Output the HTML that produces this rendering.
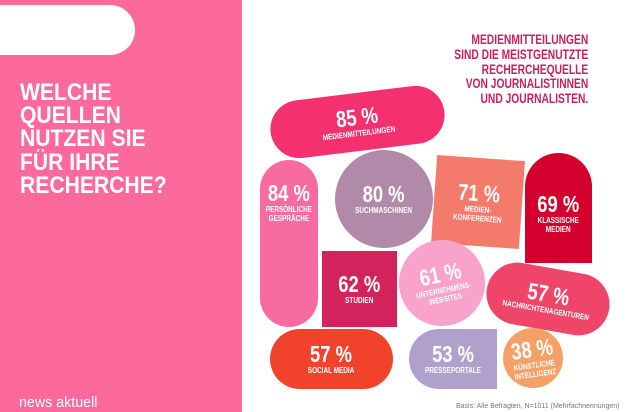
<!DOCTYPE html>
<html><head><meta charset="utf-8"><style>
body{margin:0;width:630px;height:412px;overflow:hidden;background:#fff;position:relative;font-family:"Liberation Sans",sans-serif}
#panel{position:absolute;left:0;top:0;width:242px;height:412px;background:#fc6a9b}
#pill{position:absolute;left:-30px;top:5px;width:165px;height:50px;border-radius:25px;background:#fff}
#title{position:absolute;left:20px;top:81px;color:#fff;font-weight:bold;font-size:24px;line-height:23.2px;transform:scaleX(0.88);transform-origin:left;white-space:nowrap}
#logo{position:absolute;left:19px;top:394px;color:#fff;font-size:15px;transform:scaleX(0.95);transform-origin:left}
#head{position:absolute;right:42px;top:33px;text-align:right;color:#c8205f;font-weight:bold;font-size:13.5px;line-height:14.8px;transform:scaleX(0.76);transform-origin:right;white-space:nowrap}
#foot{position:absolute;left:456px;top:403px;color:#777;font-size:7px;white-space:nowrap}
.s{position:absolute;color:#fff;display:flex;flex-direction:column;align-items:center;justify-content:center;text-align:center;font-weight:bold}
.w{transform:scaleX(0.8);white-space:nowrap;display:flex;flex-direction:column;align-items:center}
.v{font-size:23px;line-height:23px}
.l{font-size:8px;line-height:9px}
</style></head><body>
<div id="panel"><div id="pill"></div>
<div id="title">WELCHE<br>QUELLEN<br>NUTZEN SIE<br>FÜR IHRE<br>RECHERCHE?</div>
<div id="logo">news aktuell</div></div>
<div id="head">MEDIENMITTEILUNGEN<br>SIND DIE MEISTGENUTZTE<br>RECHERCHEQUELLE<br>VON JOURNALISTINNEN<br>UND JOURNALISTEN.</div>
<div id="foot">Basis: Alle Befragten, N=1011 (Mehrfachnennungen)</div>
<div id="chart"></div>
<script>
const categories=["MEDIENMITTEILUNGEN","PERSÖNLICHE<br>GESPRÄCHE","SUCHMASCHINEN","MEDIEN-<br>KONFERENZEN","KLASSISCHE<br>MEDIEN","STUDIEN","UNTERNEHMENS-<br>WEBSITES","NACHRICHTENAGENTUREN","SOCIAL MEDIA","PRESSEPORTALE","KÜNSTLICHE<br>INTELLIGENZ"];
const values=[85,84,80,71,69,62,61,57,57,53,38];
const colors=["#f4306f","#f86ba0","#b18aa9","#f47b6c","#d3002d","#d2235d","#f9a2cb","#ef4569","#f1432c","#b0a0cc","#f5a067"];
// layout: left, top, width, height, border-radius, rotation, vertical alignment, padding-top
const layout=[[270,93,175,58,"29px",-7,"center",0],[260,160,58,167,"29px",0,"flex-start",22],[335,150,98,98,"50%",0,"center",0],[434,158,88,88,"0",4,"center",0],[525,153,67,110,"34px 34px 0 0",0,"center",10],[322,251,75,76,"0",0,"center",0],[399,240,86,86,"50%",-12,"center",0],[486,268,124,62,"31px",10,"center",0],[270,329,123,60,"30px",0,"center",0],[409,329,88,60,"30px 0 0 30px",0,"center",0],[503,328,60,60,"50%",-8,"center",0]];
const chart=document.getElementById('chart');
values.forEach((v,i)=>{const g=layout[i];const d=document.createElement('div');
d.className='s';


d.style.cssText=`left:${g[0]}px;top:${g[1]}px;width:${g[2]}px;height:${g[3]}px;border-radius:${g[4]};transform:rotate(${g[5]}deg);background:${colors[i]};justify-content:${g[6]};padding-top:${g[7]}px;box-sizing:border-box`;
d.innerHTML=`<div class="w"><div class="v">${v} %</div><div class="l">${categories[i]}</div></div>`;
chart.appendChild(d);});
</script>
</body></html>
